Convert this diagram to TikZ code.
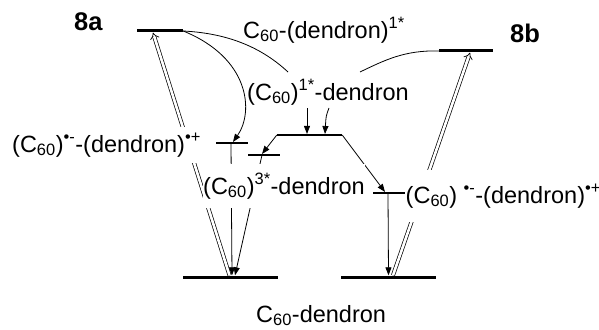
\documentclass[tikz,border=0pt]{standalone}
\usepackage{fontspec}
\setmainfont{Liberation Sans}
\usetikzlibrary{arrows.meta}
\begin{document}
\begin{tikzpicture}[x=1pt,y=-1pt,
  lvlthick/.style={fill=black,inner sep=0pt,minimum height=3pt},
  lvlthin/.style={fill=black,inner sep=0pt,minimum height=1.7pt},
  conn/.style={line width=0.8pt,-{Triangle[length=8pt,width=6pt]}},
  curv/.style={line width=0.8pt},
  exc/.style={double,double distance=2.6pt,line width=0.7pt,-{Implies}},
  lab/.style={font=\fontsize{23.5}{28}\selectfont,inner sep=0pt,anchor=base west},
  tag/.style={font=\fontsize{25.5}{30}\selectfont\bfseries,inner sep=0pt,anchor=base west}
]
\useasboundingbox (0,0) rectangle (599,329);

% energy levels
\node[lvlthick,minimum width=46pt] (top8a) at (160,31) {};
\node[lvlthick,minimum width=54pt] (top8b) at (466,51) {};
\node[lvlthin,minimum width=32pt] (rpL) at (232,143) {};
\node[lvlthin,minimum width=32pt] (trip) at (264,155) {};
\node[lvlthin,minimum width=65pt] (mid) at (309.5,135) {};
\node[lvlthin,minimum width=32pt] (rpR) at (389,193) {};
\node[lvlthick,minimum width=95pt] (gndL) at (230.5,277) {};
\node[lvlthick,minimum width=95pt] (gndR) at (388.5,277) {};

% free ends
\coordinate (e1) at (288,72);
\coordinate (e2) at (360,72);
\coordinate (s1) at (307,108);
\coordinate (s2) at (329,108);

% excitations
\draw[exc] ([xshift=-1pt]gndL.north) -- ([xshift=-7pt]top8a.south);
\draw[exc] ([xshift=4.5pt]gndR.north) -- ([xshift=4pt]top8b.south);

% relaxations
\draw[curv] (top8a.east) .. controls (222,33) and (258,44) .. (e1);
\draw[curv] (top8b.west) .. controls (405,50) and (385,60) .. (e2);
\draw[conn] (top8a.east) .. controls (250,58) and (254,112) .. ([xshift=1pt]rpL.north);
\draw[conn] (s1) -- ([xshift=-2.5pt]mid.north);
\draw[conn] (s2) .. controls (326,116) .. ([xshift=15.5pt]mid.north);
\draw[conn] (mid.west) -- ([xshift=-2pt]trip.north);
\draw[conn] (mid.east) -- ([xshift=-4pt]rpR.north);
\draw[conn] ([xshift=-1pt]rpL.south) -- ([xshift=1.5pt]gndL.north);
\draw[conn] ([xshift=-2pt]trip.center) -- ([xshift=4.5pt]gndL.north);
\draw[conn] ([xshift=-1pt]rpR.south) -- (gndR.north);

% labels
\node[tag] (l8a) at (74,31) {8a};
\node[tag] (l8b) at (510,43) {8b};
\node[lab] (lsing) at (243,38) {C\textsubscript{60}-(dendron)\textsuperscript{1*}};
\node[lab] (lc1) at (247,100) {(C\textsubscript{60})\textsuperscript{1*}-dendron};
\node[lab,fill=white,inner xsep=1pt,inner ysep=6pt] (lrpL) at (11,152) {(C\textsubscript{60})\textsuperscript{•-}-(dendron)\textsuperscript{•+}};
\node[lab,fill=white,inner xsep=0.5pt,inner ysep=9pt] (ltrip) at (202.5,194) {(C\textsubscript{60})\textsuperscript{3*}-dendron};
\node[lab,fill=white,inner xsep=0pt,inner ysep=14pt] (lrpR) at (405.5,203) {(C\textsubscript{60}) \textsuperscript{•-}-(dendron)\textsuperscript{•+}};
\node[lab] (lgnd) at (256,322) {C\textsubscript{60}-dendron};
\end{tikzpicture}
\end{document}
